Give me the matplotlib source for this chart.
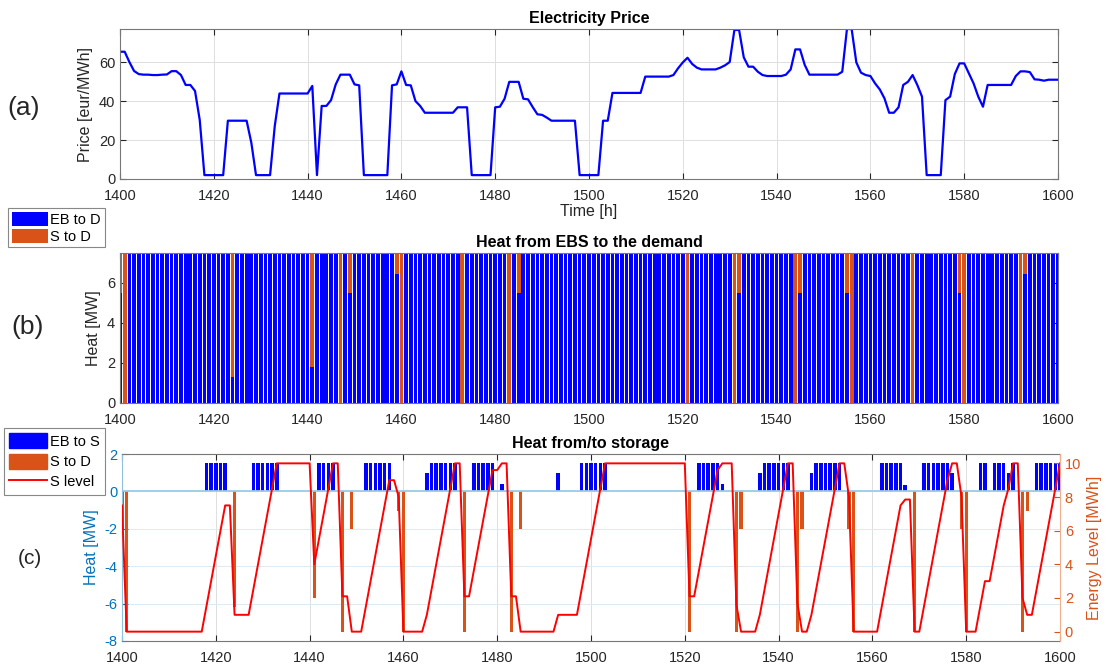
import matplotlib.pyplot as plt
import matplotlib.patches as mpatches
import matplotlib.lines as mlines
import numpy as np

plt.rcParams['font.family'] = ['Liberation Sans', 'DejaVu Sans']
plt.rcParams['axes.unicode_minus'] = False

# --- data (hourly, 1400..1600) ---
hours = np.arange(1400, 1601)

price = [
    65.5, 65.5, 60.2, 55.6, 54.0, 53.7, 53.7, 53.5, 53.5, 53.7,   # 1400
    53.8, 55.5, 55.5, 53.5, 48.4, 48.4, 45.3, 30.4, 2, 2,         # 1410
    2, 2, 2, 30, 30, 30, 30, 30, 18.7, 2,                         # 1420
    2, 2, 2, 27.3, 44, 44, 44, 44, 44, 44,                        # 1430
    44, 47.9, 2, 37.6, 37.6, 40.6, 48.7, 53.7, 53.7, 53.7,        # 1440
    48.7, 48.2, 2, 2, 2, 2, 2, 2, 48.2, 48.7,                     # 1450
    55.4, 48.4, 48.2, 40.1, 37.6, 34.1, 34.1, 34.1, 34.1, 34.1,   # 1460
    34.1, 34.1, 36.9, 36.9, 36.9, 2, 2, 2, 2, 2,                  # 1470
    36.9, 37.2, 41.3, 50, 50, 50, 41.3, 41, 37, 33.3,             # 1480
    33, 31.6, 30, 30, 30, 30, 30, 30, 2, 2,                       # 1490
    2, 2, 2, 30, 30, 44.3, 44.3, 44.3, 44.3, 44.3,                # 1500
    44.3, 44.3, 52.7, 52.7, 52.7, 52.7, 52.7, 52.7, 53.5, 57,     # 1510
    60, 62.4, 59.2, 57.3, 56.4, 56.4, 56.4, 56.4, 57.3, 58.5,     # 1520
    60.2, 76.7, 76.7, 62.6, 57.8, 57.8, 55.2, 53.5, 53, 53,       # 1530
    53, 53, 53.7, 56.4, 66.7, 66.7, 58.7, 53.7, 53.7, 53.7,       # 1540
    53.7, 53.7, 53.7, 53.7, 55.2, 77.2, 77.2, 60, 54.7, 53.5,     # 1550
    53, 49.2, 46.1, 41.5, 34.1, 34.1, 36.9, 48.4, 50, 53.5,       # 1560
    48.4, 42.4, 2, 2, 2, 2, 40.6, 42.4, 54, 59.5,                 # 1570
    59.5, 54.4, 49.2, 42.4, 37.2, 48.4, 48.4, 48.4, 48.4, 48.4,   # 1580
    48.4, 53, 55.4, 55.4, 55, 51.3, 51.1, 50.6, 51.1, 51.1,       # 1590
    51.1,                                                         # 1600
]

# storage energy level [MWh]
s_level = [
    7.5, 0, 0, 0, 0, 0, 0, 0, 0, 0,              # 1400
    0, 0, 0, 0, 0, 0, 0, 0, 1.5, 3,              # 1410
    4.5, 6, 7.5, 7.5, 1.0, 1.0, 1.0, 1.0, 2.5, 4,  # 1420
    5.5, 7, 8.5, 10, 10, 10, 10, 10, 10, 10,     # 1430
    10, 4.0, 5.5, 7, 8.5, 10, 10, 2.1, 2.1, 0,   # 1440
    0, 0, 1.5, 3, 4.5, 6, 7.5, 9, 9, 8.0,        # 1450
    0, 0, 0, 0, 0, 1.0, 2.5, 4, 5.5, 7,          # 1460
    8.5, 10, 10, 2.1, 2.1, 3.6, 5.1, 6.6, 8.1, 9.6,  # 1470
    9.6, 10, 10, 2.1, 2.1, 0, 0, 0, 0, 0,        # 1480
    0, 0, 0, 1.0, 1.0, 1.0, 1.0, 1.0, 2.5, 4,    # 1490
    5.5, 7, 8.5, 10, 10, 10, 10, 10, 10, 10,     # 1500
    10, 10, 10, 10, 10, 10, 10, 10, 10, 10,      # 1510
    10, 2.1, 2.1, 3.6, 5.1, 6.6, 8.1, 9.6, 10, 10,  # 1520
    10, 1.6, 0, 0, 0, 0, 1.0, 2.5, 4, 5.5,       # 1530
    7, 8.5, 10, 10, 1.7, 0, 0, 1.0, 2.5, 4,      # 1540
    5.5, 7, 8.5, 10, 10, 8.0, 0, 0, 0, 0,        # 1550
    0, 0, 1.5, 3, 4.5, 6, 7.5, 7.85, 7.85, 0,    # 1560
    0, 1.5, 3, 4.5, 6, 7.5, 9, 10, 10, 8.0,      # 1570
    0, 0, 0, 1.5, 3, 3, 4.5, 6, 7.5, 8.5,        # 1580
    10, 10, 2.0, 1.0, 1.0, 2.5, 4, 5.5, 7, 8.5,  # 1590
    10,                                          # 1600
]

# heat from storage to demand [MW] (non-zero hours)
s_to_d_hours = [1400, 1401, 1424, 1441, 1447, 1449, 1459, 1460, 1473, 1483,
                1485, 1521, 1531, 1532, 1544, 1545, 1555, 1556, 1569, 1579,
                1580, 1592, 1593]
s_to_d_vals = [2.0, 7.5, 6.2, 5.7, 7.5, 2.0, 1.05, 7.5, 7.5, 7.5,
               2.0, 7.5, 7.5, 2.0, 7.5, 2.0, 2.0, 7.5, 7.5, 2.0,
               7.5, 7.5, 1.05]

# heat from electric boiler to storage [MW] (non-zero hours)
eb_to_s_hours = [1418, 1419, 1420, 1421, 1422,
                 1428, 1429, 1430, 1431, 1432, 1433,
                 1442, 1443, 1444, 1445,
                 1452, 1453, 1454, 1455, 1456, 1457,
                 1465, 1466, 1467, 1468, 1469, 1470, 1471,
                 1475, 1476, 1477, 1478, 1479, 1481,
                 1493,
                 1498, 1499, 1500, 1501, 1502, 1503,
                 1523, 1524, 1525, 1526, 1527, 1528,
                 1536, 1537, 1538, 1539, 1540, 1541, 1542,
                 1547, 1548, 1549, 1550, 1551, 1552, 1553,
                 1562, 1563, 1564, 1565, 1566, 1567,
                 1571, 1572, 1573, 1574, 1575, 1576, 1577,
                 1583, 1584, 1586, 1587, 1588, 1589, 1590,
                 1595, 1596, 1597, 1598, 1599, 1600]
eb_to_s_vals = [1.5, 1.5, 1.5, 1.5, 1.5,
                1.5, 1.5, 1.5, 1.5, 1.5, 1.5,
                1.5, 1.5, 1.5, 1.5,
                1.5, 1.5, 1.5, 1.5, 1.5, 1.5,
                1.0, 1.5, 1.5, 1.5, 1.5, 1.5, 1.5,
                1.5, 1.5, 1.5, 1.5, 1.5, 0.4,
                1.0,
                1.5, 1.5, 1.5, 1.5, 1.5, 1.5,
                1.5, 1.5, 1.5, 1.5, 1.5, 0.4,
                1.0, 1.5, 1.5, 1.5, 1.5, 1.5, 1.5,
                1.0, 1.5, 1.5, 1.5, 1.5, 1.5, 1.5,
                1.5, 1.5, 1.5, 1.5, 1.5, 0.35,
                1.5, 1.5, 1.5, 1.5, 1.5, 1.5, 1.0,
                1.5, 1.5, 1.5, 1.5, 1.5, 1.0, 1.5,
                1.5, 1.5, 1.5, 1.5, 1.5, 1.5]

heat_demand = 7.5  # MW, constant

s_to_d = np.zeros(len(hours))
s_to_d[np.searchsorted(hours, s_to_d_hours)] = s_to_d_vals
eb_to_s = np.zeros(len(hours))
eb_to_s[np.searchsorted(hours, eb_to_s_hours)] = eb_to_s_vals
eb_to_d = heat_demand - s_to_d

# --- colours ---
BLUE = '#0000FF'
ORANGE = '#D95319'
MBLUE = '#0072BD'
TXT = '#262626'
GRID = '#dedede'

W, H = 1111, 668
fig = plt.figure(figsize=(W / 100, H / 100), dpi=100)


def style_axes(ax):
    ax.tick_params(direction='in', length=4, labelsize=10.5, colors=TXT,
                   top=True, right=True)
    ax.tick_params(axis='x', pad=7)
    for s in ax.spines.values():
        s.set_color('#777777')
        s.set_linewidth(0.8)
    ax.set_axisbelow(True)
    ax.set_xlim(1400, 1600)
    ax.set_xticks(np.arange(1400, 1601, 20))


# --- (a) Electricity price ---
ax1 = fig.add_axes([120 / W, 1 - 179 / H, 938 / W, 150 / H])
style_axes(ax1)
ax1.plot(hours, price, color=BLUE, lw=1.6)
ax1.set_ylim(0, 77.2)
ax1.set_yticks([0, 20, 40, 60])
ax1.grid(True, color=GRID, lw=0.7)
ax1.set_title('Electricity Price', fontsize=11.5, fontweight='bold', pad=4)
ax1.set_xlabel('Time [h]', fontsize=11.5, color=TXT, labelpad=1)
ax1.set_ylabel('Price [eur/MWh]', fontsize=11.5, color=TXT)

# --- (b) Heat from EBS to demand ---
ax2 = fig.add_axes([120 / W, 1 - 403 / H, 938 / W, 150 / H])
style_axes(ax2)
ax2.bar(hours, eb_to_d, width=0.8, color=BLUE, linewidth=0, label='EB to D')
ax2.bar(hours, s_to_d, width=0.8, bottom=eb_to_d, color=ORANGE, linewidth=0,
        label='S to D')
ax2.set_ylim(0, 7.5)
ax2.set_yticks([0, 2, 4, 6])
ax2.set_title('Heat from EBS to the demand', fontsize=11.5, fontweight='bold', pad=4)
ax2.set_ylabel('Heat [MW]', fontsize=11.5, color=TXT)
leg2 = ax2.legend(loc='upper left', bbox_to_anchor=(8 / W, 1 - 208 / H),
                  bbox_transform=fig.transFigure, fontsize=10.5, fancybox=False,
                  handlelength=2.5, handleheight=1.1, handletextpad=0.15,
                  borderpad=0.25, labelspacing=0.15, borderaxespad=0,
                  edgecolor='#888888', framealpha=1)
leg2.get_frame().set_linewidth(0.8)

# --- (c) Heat from/to storage ---
ax3 = fig.add_axes([122 / W, 1 - 641 / H, 938 / W, 187 / H])
style_axes(ax3)
ax3.tick_params(axis='y', colors=MBLUE, right=False)
ax3.bar(hours, eb_to_s, width=0.75, color=BLUE, linewidth=0)
ax3.bar(hours, -s_to_d, width=0.7, color=ORANGE, linewidth=0)
ax3.axhline(0, color='#9ccbe8', lw=1.3, zorder=1.5)
ax3.set_ylim(-8, 2)
ax3.set_yticks(np.arange(-8, 3, 2))
ax3.grid(True, axis='x', color=GRID, lw=0.7)
ax3.grid(True, axis='y', color='#dce9f3', lw=0.7)
ax3.spines['left'].set_color('#8fc0e0')
ax3.spines['right'].set_visible(False)
ax3.set_title('Heat from/to storage', fontsize=11.5, fontweight='bold', pad=4)
ax3.set_ylabel('Heat [MW]', fontsize=11.5, color=MBLUE)

ax3r = ax3.twinx()
ax3r.plot(hours, s_level, color='#FF0000', lw=1.4)
ax3r.set_ylim(-5 / 9, 95 / 9)
ax3r.set_yticks(np.arange(0, 11, 2))
ax3r.tick_params(axis='y', direction='in', length=4, labelsize=10.5, colors=ORANGE)
for k, s in ax3r.spines.items():
    s.set_visible(k == 'right')
ax3r.spines['right'].set_color('#f0b090')
ax3r.spines['right'].set_linewidth(0.8)
ax3r.set_ylabel('Energy Level [MWh]', fontsize=11.5, color=ORANGE)

handles = [mpatches.Patch(color=BLUE, label='EB to S'),
           mpatches.Patch(color=ORANGE, label='S to D'),
           mlines.Line2D([], [], color='#FF0000', lw=1.4, label='S level')]
leg3 = ax3r.legend(handles=handles, loc='upper left',
                   bbox_to_anchor=(4 / W, 1 - 428 / H),
                   bbox_transform=fig.transFigure, fontsize=10.5, fancybox=False,
                   handlelength=2.6, handleheight=1.2, handletextpad=0.2,
                   borderpad=0.35, labelspacing=0.35, borderaxespad=0,
                   edgecolor='#888888', framealpha=1)
leg3.get_frame().set_linewidth(0.8)

# panel letters
fig.text(24 / W, 1 - 108 / H, '(a)', fontsize=19, color=TXT, ha='center', va='center')
fig.text(28 / W, 1 - 327 / H, '(b)', fontsize=19, color=TXT, ha='center', va='center')
fig.text(30 / W, 1 - 558 / H, '(c)', fontsize=15, color=TXT, ha='center', va='center')

fig.savefig('out.png', dpi=100)
